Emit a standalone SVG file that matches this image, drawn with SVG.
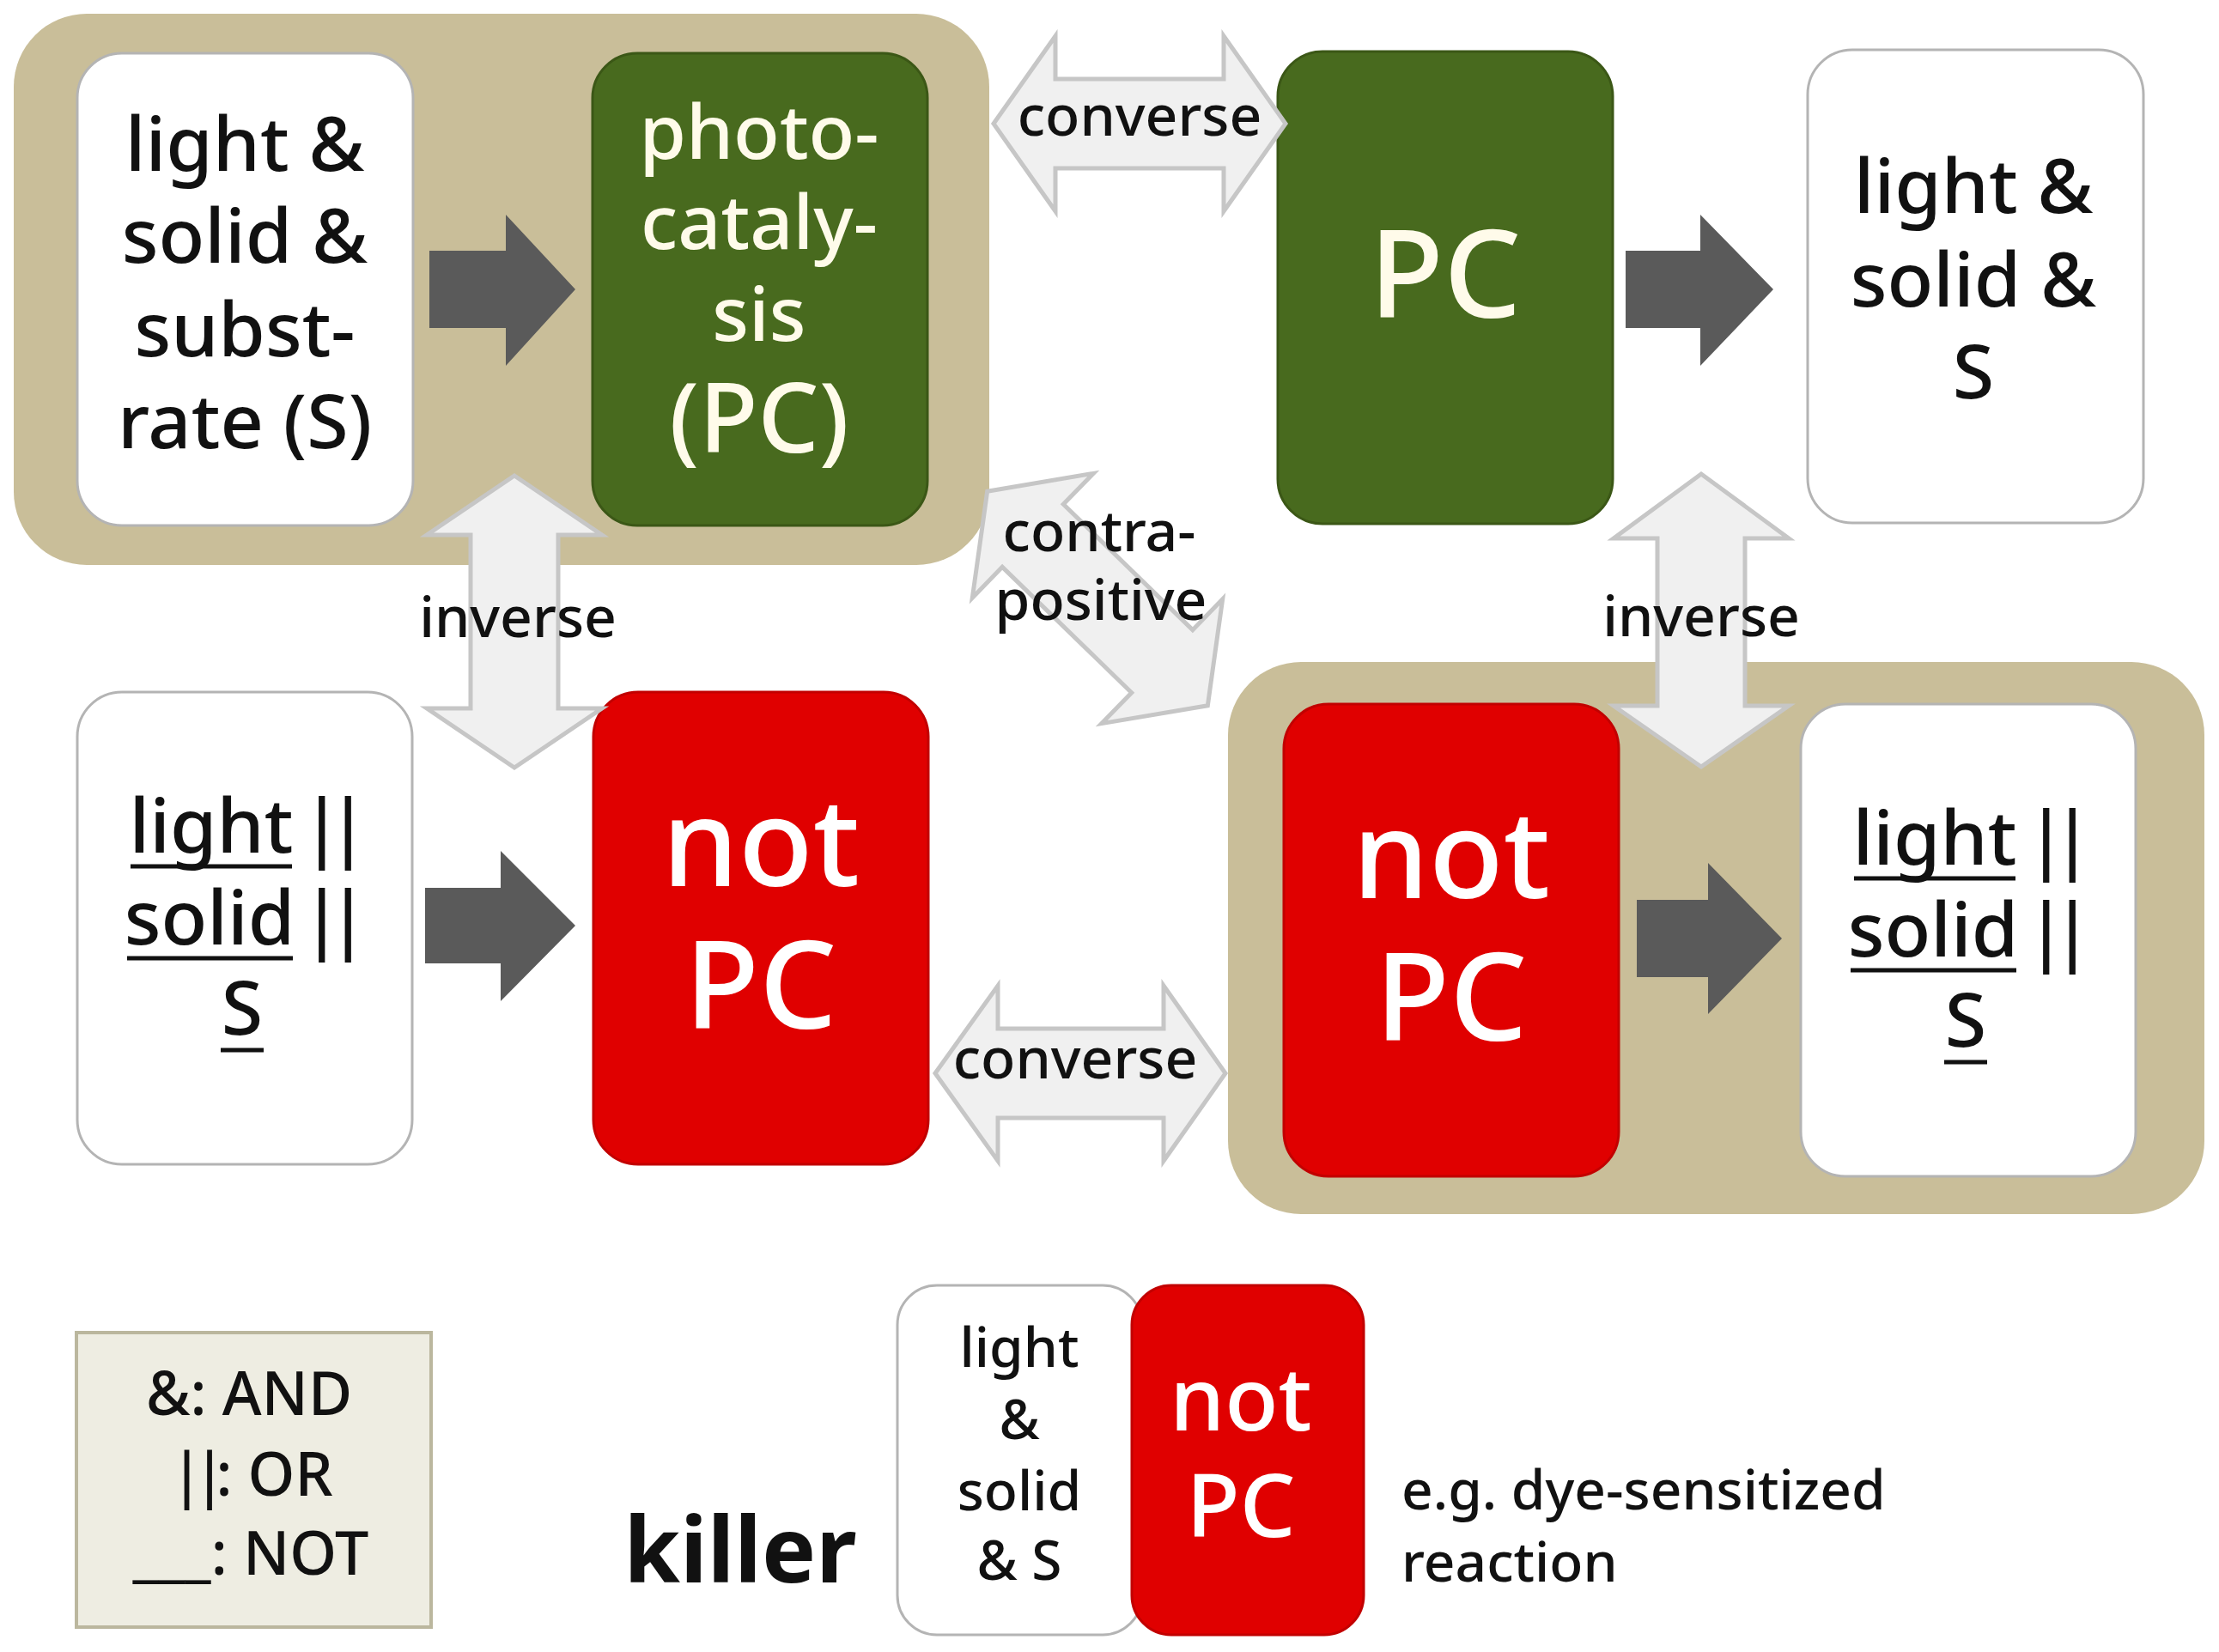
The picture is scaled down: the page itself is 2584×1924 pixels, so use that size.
<svg xmlns="http://www.w3.org/2000/svg" width="2584" height="1924" viewBox="0 0 2584 1924">
<style>
text{font-family:"Noto Sans","Open Sans","Liberation Sans",sans-serif;font-weight:500}
.grp{fill:#c9be99}
.wbox{fill:#ffffff;stroke:#b4b4b4;stroke-width:3}
.gbox{fill:#486a1e;stroke:#3b5716;stroke-width:3}
.rbox{fill:#e00000;stroke:#c20000;stroke-width:3}
.dark{fill:#5a5a5a}
.light{fill:#f0f0f0;stroke:#c6c6c6;stroke-width:5;stroke-linejoin:miter}
.bt{fill:#111111;font-size:88px;text-anchor:middle}
.wt{fill:#fffbea;font-size:88px;text-anchor:middle}
.big{fill:#ffffff;font-size:142px;text-anchor:middle}
.lab{fill:#111111;font-size:66px;text-anchor:middle}
.bars{letter-spacing:-18px}
.ul{stroke:#111111;stroke-width:5}
</style>

<g id="group-top-left">
  <rect class="grp" x="16" y="16" width="1136" height="642" rx="85"/>
</g>
<g id="group-bottom-right">
  <rect class="grp" x="1430" y="771" width="1137" height="643" rx="85"/>
</g>

<g id="node-conditions-tl">
  <rect class="wbox" x="90" y="62" width="391" height="550" rx="52"/>
  <text class="bt" x="285" y="199">light &amp;</text>
  <text class="bt" x="285" y="306">solid &amp;</text>
  <text class="bt" x="285" y="415">subst-</text>
  <text class="bt" x="285" y="522">rate (S)</text>
</g>

<g id="node-photocatalysis">
  <rect class="gbox" x="690" y="62" width="390" height="550" rx="52"/>
  <text class="wt" x="884" y="185">photo-</text>
  <text class="wt" x="884" y="290">cataly-</text>
  <text class="wt" x="884" y="397">sis</text>
  <text class="wt" x="884" y="527" style="font-size:112px">(PC)</text>
</g>

<g id="node-pc-tr">
  <rect class="gbox" x="1488" y="60" width="390" height="550" rx="52"/>
  <text class="big" x="1683" y="370" style="fill:#fffbea">PC</text>
</g>

<g id="node-conditions-tr">
  <rect class="wbox" x="2105" y="58" width="391" height="551" rx="52"/>
  <text class="bt" x="2298" y="248">light &amp;</text>
  <text class="bt" x="2298" y="357">solid &amp;</text>
  <text class="bt" x="2298" y="464">S</text>
</g>

<g id="node-notconditions-bl">
  <rect class="wbox" x="90" y="806" width="390" height="550" rx="52"/>
  <text class="bt" x="246" y="993">light</text>
  <text class="bt bars" x="381" y="993">||</text>
  <line class="ul" x1="152" y1="1009" x2="340" y2="1009"/>
  <text class="bt" x="244" y="1100">solid</text>
  <text class="bt bars" x="381" y="1100">||</text>
  <line class="ul" x1="148" y1="1116" x2="341" y2="1116"/>
  <text class="bt" x="282" y="1205">S</text>
  <line class="ul" x1="257" y1="1223" x2="307" y2="1223"/>
</g>

<g id="node-notpc-bl">
  <rect class="rbox" x="691" y="806" width="390" height="550" rx="52"/>
  <text class="big" x="886" y="1032">not</text>
  <text class="big" x="886" y="1198">PC</text>
</g>

<g id="node-notpc-br">
  <rect class="rbox" x="1495" y="820" width="390" height="550" rx="52"/>
  <text class="big" x="1690" y="1046">not</text>
  <text class="big" x="1690" y="1212">PC</text>
</g>

<g id="node-notconditions-br">
  <rect class="wbox" x="2097" y="820" width="390" height="550" rx="52"/>
  <text class="bt" x="2253" y="1007">light</text>
  <text class="bt bars" x="2389" y="1007">||</text>
  <line class="ul" x1="2159" y1="1023" x2="2347" y2="1023"/>
  <text class="bt" x="2251" y="1114">solid</text>
  <text class="bt bars" x="2389" y="1114">||</text>
  <line class="ul" x1="2155" y1="1130" x2="2348" y2="1130"/>
  <text class="bt" x="2289" y="1219">S</text>
  <line class="ul" x1="2264" y1="1237" x2="2314" y2="1237"/>
</g>

<g id="connectors">
  <polygon class="dark" points="500,292 589,292 589,250 670,337 589,426 589,382 500,382"/>
  <polygon class="dark" points="1893,292 1980,292 1980,250 2065,337 1980,426 1980,382 1893,382"/>
  <polygon class="dark" points="495,1034 583,1034 583,991 670,1078 583,1166 583,1122 495,1122"/>
  <polygon class="dark" points="1906,1048 1989,1048 1989,1005 2075,1093 1989,1181 1989,1138 1906,1138"/>

  <polygon class="light" points="1157,144 1229,42 1229,92 1425,92 1425,42 1497,144 1425,246 1425,196 1229,196 1229,246"/>
  <polygon class="light" points="1089,1250 1162,1148 1162,1198 1355,1198 1355,1148 1427,1250 1355,1352 1355,1302 1162,1302 1162,1352"/>
  <polygon class="light" points="599,554 701,623 650,623 650,825 701,825 599,894 497,825 548,825 548,623 497,623"/>
  <polygon class="light" points="1981,552 2083,627 2032,627 2032,822 2083,822 1981,893 1879,822 1930,822 1930,627 1879,627"/>
  <polygon class="light" transform="translate(1278,697) rotate(44.2)" points="-179,0 -105,-101 -105,-51 105,-51 105,-101 179,0 105,101 105,51 -105,51 -105,101"/>

  <text class="lab" x="1327" y="158">converse</text>
  <text class="lab" x="1252" y="1256">converse</text>
  <text class="lab" x="603" y="742">inverse</text>
  <text class="lab" x="1981" y="741">inverse</text>
  <text class="lab" x="1280" y="642">contra-</text>
  <text class="lab" x="1282" y="722">positive</text>
</g>

<g id="legend">
  <rect x="89" y="1552" width="413" height="343" fill="#eeede2" stroke="#bbb79e" stroke-width="4"/>
  <text class="lab" x="290" y="1648" style="font-size:70px">&amp;: AND</text>
  <text class="lab" x="293" y="1742" style="font-size:70px"><tspan style="letter-spacing:-12px">||</tspan>: OR</text>
  <text class="lab" x="292" y="1834" style="font-size:70px">___: NOT</text>
</g>

<g id="killer">
  <text x="862" y="1843" style="fill:#111111;font-size:106px;font-weight:bold;text-anchor:middle">killer</text>
  <rect class="wbox" x="1045" y="1497" width="285" height="407" rx="46"/>
  <rect class="rbox" x="1318" y="1497" width="270" height="407" rx="46"/>
  <text class="lab" x="1187" y="1592" style="font-size:64px">light</text>
  <text class="lab" x="1187" y="1676" style="font-size:64px">&amp;</text>
  <text class="lab" x="1187" y="1759" style="font-size:64px">solid</text>
  <text class="lab" x="1187" y="1840" style="font-size:64px">&amp; S</text>
  <text class="big" x="1445" y="1666" style="font-size:102px">not</text>
  <text class="big" x="1445" y="1790" style="font-size:102px">PC</text>
  <text x="1632" y="1758" style="fill:#111111;font-size:64px">e.g. dye-sensitized</text>
  <text x="1632" y="1842" style="fill:#111111;font-size:64px">reaction</text>
</g>
</svg>
